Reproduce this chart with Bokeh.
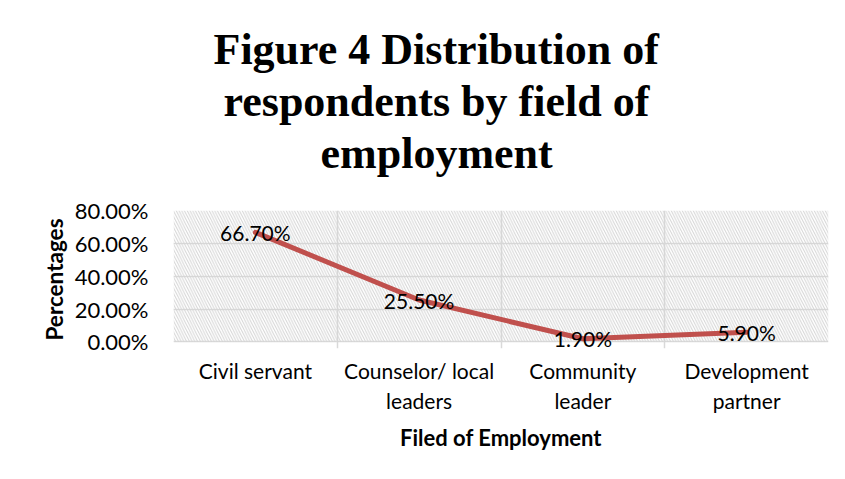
from bokeh.plotting import figure
from bokeh.models import (Title, FixedTicker, PrintfTickFormatter, BoxAnnotation,
                          ColumnDataSource, Range1d, LabelSet)
from bokeh.core.properties import value
from bokeh.embed import file_html
from bokeh.resources import INLINE

categories = ["Civil servant", "Counselor/ local\nleaders", "Community\nleader", "Development\npartner"]
percentages = [66.7, 25.5, 1.9, 5.9]
y_ticks = [0, 20, 40, 60, 80]
title_lines = ["Figure 4 Distribution of", "respondents by field of", "employment"]
title_offsets = [40, 50, 147]
x_title = "Filed of Employment"
y_title = "Percentages"

xs = [i + 0.5 for i in range(len(categories))]
labels = ["%.2f%%" % v for v in percentages]
src = ColumnDataSource(dict(x=xs, y=percentages, label=labels))

y_min, y_max = y_ticks[0], y_ticks[-1]
# a little white room below 0 so the lowest data label is not cut off
p = figure(width=829, height=470, output_backend="svg", toolbar_location=None,
           x_range=Range1d(0, len(categories)), y_range=Range1d(y_min - 4, y_max),
           min_border_left=173, min_border_right=1, min_border_top=210, min_border_bottom=122)
p.background_fill_color = "white"
p.border_fill_color = "white"
p.outline_line_color = None

# hatched plot area
p.add_layout(BoxAnnotation(bottom=y_min, top=y_max, fill_alpha=0, line_alpha=0,
                           hatch_pattern="\\", hatch_color="#d4d4d4", hatch_scale=5.5,
                           hatch_weight=1, level="underlay"))

# grid
p.xgrid.ticker = FixedTicker(ticks=list(range(len(categories) + 1)))
p.xgrid.bounds = (y_min, y_max)
p.ygrid.ticker = FixedTicker(ticks=y_ticks)
p.xgrid.grid_line_color = "#d9d9d9"
p.ygrid.grid_line_color = "#d9d9d9"
p.xgrid.grid_line_width = 1.5
p.ygrid.grid_line_width = 1.5

# axes
lab_font = "Lato"
p.yaxis.ticker = FixedTicker(ticks=y_ticks)
p.yaxis.formatter = PrintfTickFormatter(format="%.2f%%")
p.yaxis.axis_line_color = None
p.yaxis.major_tick_line_color = None
p.yaxis.minor_tick_line_color = None
p.yaxis.major_label_text_font = lab_font
p.yaxis.major_label_text_font_size = "22px"
p.yaxis.major_label_text_color = "#000000"
p.yaxis.major_label_standoff = 19
p.yaxis.axis_label = y_title
p.yaxis.axis_label_text_font = lab_font
p.yaxis.axis_label_text_font_style = "bold"
p.yaxis.axis_label_text_font_size = "22.5px"
p.yaxis.axis_label_text_color = "#000000"
p.yaxis.axis_label_standoff = 4

p.xaxis.ticker = FixedTicker(ticks=xs)
p.xaxis.major_label_overrides = {x: c for x, c in zip(xs, categories)}
p.xaxis.axis_line_color = None
p.xaxis.major_tick_line_color = None
p.xaxis.minor_tick_line_color = None
p.xaxis.major_label_text_font = lab_font
p.xaxis.major_label_text_font_size = "21px"
p.xaxis.major_label_text_color = "#000000"
p.xaxis.major_label_standoff = 3
p.xaxis.axis_label = x_title
p.xaxis.axis_label_text_font = lab_font
p.xaxis.axis_label_text_font_style = "bold"
p.xaxis.axis_label_text_font_size = "22px"
p.xaxis.axis_label_text_color = "#000000"
p.xaxis.axis_label_standoff = 8

# spacer between the chart title and the plot area
p.add_layout(Title(text=" ", text_font_size="26px", standoff=0), "above")
# titles (stacked from the plot area upwards)
for t, off in reversed(list(zip(title_lines, title_offsets))):
    p.add_layout(Title(text=t, align="left", offset=off, text_font="Liberation Serif",
                       text_font_style="bold", text_font_size="44px",
                       text_color="#000000", standoff=1), "above")

p.line("x", "y", source=src, line_color="#C0504D", line_width=5, line_cap="round",
       line_join="round")
p.add_layout(LabelSet(x="x", y="y", text="label", source=src, text_align="center",
                      text_baseline="middle", text_font=value(lab_font),
                      text_font_size="21px", text_color="#000000"))

open("out.html", "w").write(file_html(p, INLINE))
